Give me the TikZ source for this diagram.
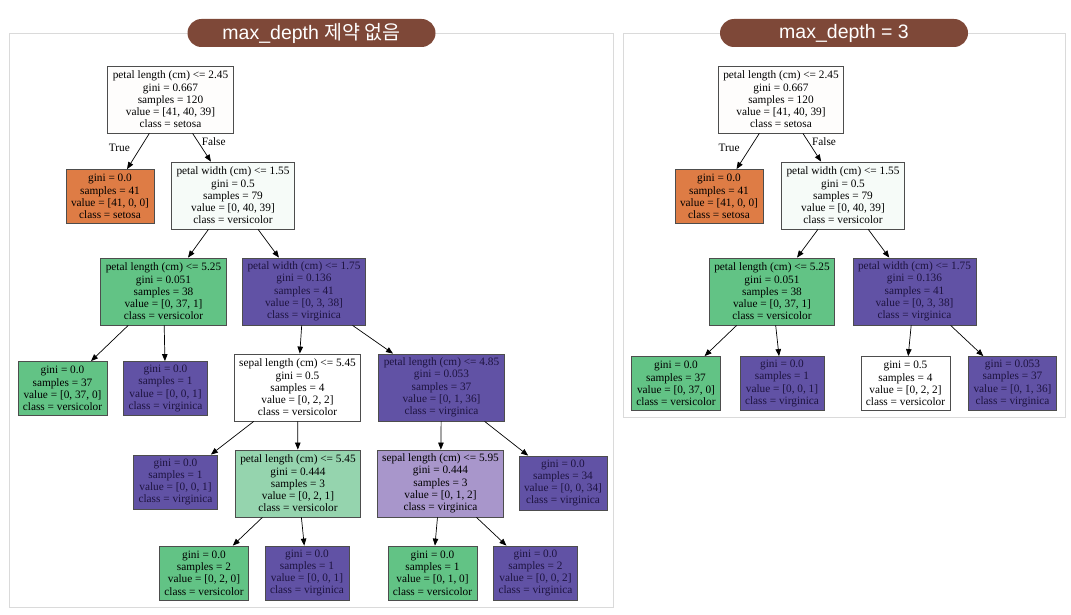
\documentclass[tikz,border=0pt]{standalone}
\usepackage{fontspec}
\setmainfont{Liberation Serif}
\newfontfamily\titlelat{Liberation Sans}
\newfontfamily\titlekr{Noto Sans CJK KR}
\usetikzlibrary{arrows.meta,positioning}
\definecolor{pillbrown}{HTML}{7E4838}
\definecolor{framegray}{HTML}{DADADA}
\definecolor{boxline}{HTML}{4D4D4D}
\definecolor{setosafill}{HTML}{DE7C45}
\definecolor{versifill}{HTML}{62C385}
\definecolor{virgifill}{HTML}{6152A5}
\definecolor{virgitext}{HTML}{1E1440}
\definecolor{versilight}{HTML}{95D4AE}
\definecolor{virgilight}{HTML}{A896CB}
\definecolor{rootfill}{HTML}{FEFDFC}
\definecolor{faintfill}{HTML}{F6FBF8}
\tikzset{
  treebox/.style={draw=boxline,line width=0.8pt,align=center,
                  font=\fontsize{11.3}{12.3}\selectfont,inner xsep=5pt,inner ysep=1pt},
  splitbox/.style={treebox,minimum height=67pt},
  leafbox/.style={treebox,minimum height=54pt},
  setosa/.style={fill=setosafill},
  versi/.style={fill=versifill},
  virgi/.style={fill=virgifill,text=virgitext},
  treearr/.style={-{Triangle[length=7pt,width=5.5pt]},line width=0.7pt},
  edgelbl/.style={font=\fontsize{11.3}{12.3}\selectfont},
  pill/.style={fill=pillbrown,rounded corners=14pt,minimum width=248pt,
               minimum height=28pt,text=white,font=\fontsize{19.5}{21}\selectfont},
  panel/.style={draw=framegray,line width=0.8pt}
}
\begin{document}
\begin{tikzpicture}[x=1pt,y=-1pt]
  \useasboundingbox (0,0) rectangle (1071,615);
  \draw[panel] (9,33) rectangle (613,607);
  \draw[panel] (623,33) rectangle (1065,417);
  \node[pill] (ltitle) at (311.5,33) {\titlelat max\_depth {\titlekr 제약 없음}};
  \node[pill] (rtitle) at (844,33) {\titlelat max\_depth = 3};

  \node[splitbox,fill=rootfill] (lroot) at (170.5,99.5) {petal length (cm) <= 2.45\\gini = 0.667\\samples = 120\\value = [41, 40, 39]\\class = setosa};
  \node[leafbox,setosa] (lset) at (110,196.5) {gini = 0.0\\samples = 41\\value = [41, 0, 0]\\class = setosa};
  \node[splitbox,fill=faintfill] (lpw1) at (233,195.5) {petal width (cm) <= 1.55\\gini = 0.5\\samples = 79\\value = [0, 40, 39]\\class = versicolor};
  \node[splitbox,versi] (lpl1) at (163.5,291.5) {petal length (cm) <= 5.25\\gini = 0.051\\samples = 38\\value = [0, 37, 1]\\class = versicolor};
  \node[splitbox,virgi] (lpw2) at (304,291.5) {petal width (cm) <= 1.75\\gini = 0.136\\samples = 41\\value = [0, 3, 38]\\class = virginica};
  \node[leafbox,versi] (lv37) at (62.5,388.5) {gini = 0.0\\samples = 37\\value = [0, 37, 0]\\class = versicolor};
  \node[leafbox,virgi] (lg1) at (165.5,388.5) {gini = 0.0\\samples = 1\\value = [0, 0, 1]\\class = virginica};
  \node[splitbox,fill=white] (lsl1) at (297.5,387.5) {sepal length (cm) <= 5.45\\gini = 0.5\\samples = 4\\value = [0, 2, 2]\\class = versicolor};
  \node[splitbox,virgi] (lpl2) at (441.5,387.5) {petal length (cm) <= 4.85\\gini = 0.053\\samples = 37\\value = [0, 1, 36]\\class = virginica};
  \node[leafbox,virgi] (lg2) at (175.5,482) {gini = 0.0\\samples = 1\\value = [0, 0, 1]\\class = virginica};
  \node[splitbox,fill=versilight] (lpl3) at (298,483.5) {petal length (cm) <= 5.45\\gini = 0.444\\samples = 3\\value = [0, 2, 1]\\class = versicolor};
  \node[splitbox,fill=virgilight] (lsl2) at (440.5,483.5) {sepal length (cm) <= 5.95\\gini = 0.444\\samples = 3\\value = [0, 1, 2]\\class = virginica};
  \node[leafbox,virgi] (lg34) at (563,483) {gini = 0.0\\samples = 34\\value = [0, 0, 34]\\class = virginica};
  \node[leafbox,versi] (lv2) at (204,573) {gini = 0.0\\samples = 2\\value = [0, 2, 0]\\class = versicolor};
  \node[leafbox,virgi] (lg3) at (307,573) {gini = 0.0\\samples = 1\\value = [0, 0, 1]\\class = virginica};
  \node[leafbox,versi] (lv1) at (432.5,573) {gini = 0.0\\samples = 1\\value = [0, 1, 0]\\class = versicolor};
  \node[leafbox,virgi] (lg4) at (535.5,573) {gini = 0.0\\samples = 2\\value = [0, 0, 2]\\class = virginica};

  \draw[treearr] (lroot) -- (lset) node[edgelbl,pos=0.4,left=7pt] {True};
  \draw[treearr] (lroot) -- (lpw1) node[edgelbl,pos=0.3,right=0pt] {False};
  \draw[treearr] (lpw1) -- (lpl1);
  \draw[treearr] (lpw1) -- (lpw2);
  \draw[treearr] (lpl1) -- (lv37);
  \draw[treearr] (lpl1) -- (lg1);
  \draw[treearr] (lpw2) -- (lsl1);
  \draw[treearr] (lpw2) -- (lpl2);
  \draw[treearr] (lsl1) -- (lg2);
  \draw[treearr] (lsl1) -- (lpl3);
  \draw[treearr] (lpl2) -- (lsl2);
  \draw[treearr] (lpl2) -- (lg34);
  \draw[treearr] (lpl3) -- (lv2);
  \draw[treearr] (lpl3) -- (lg3);
  \draw[treearr] (lsl2) -- (lv1);
  \draw[treearr] (lsl2) -- (lg4);

  \node[splitbox,fill=rootfill] (rroot) at (781,99.5) {petal length (cm) <= 2.45\\gini = 0.667\\samples = 120\\value = [41, 40, 39]\\class = setosa};
  \node[leafbox,setosa] (rset) at (719,196.5) {gini = 0.0\\samples = 41\\value = [41, 0, 0]\\class = setosa};
  \node[splitbox,fill=faintfill] (rpw1) at (843,195.5) {petal width (cm) <= 1.55\\gini = 0.5\\samples = 79\\value = [0, 40, 39]\\class = versicolor};
  \node[splitbox,versi] (rpl1) at (772,291.5) {petal length (cm) <= 5.25\\gini = 0.051\\samples = 38\\value = [0, 37, 1]\\class = versicolor};
  \node[splitbox,virgi] (rpw2) at (914.5,291.5) {petal width (cm) <= 1.75\\gini = 0.136\\samples = 41\\value = [0, 3, 38]\\class = virginica};
  \node[leafbox,versi] (rv37) at (676,383.5) {gini = 0.0\\samples = 37\\value = [0, 37, 0]\\class = versicolor};
  \node[leafbox,virgi] (rg1) at (782,383.5) {gini = 0.0\\samples = 1\\value = [0, 0, 1]\\class = virginica};
  \node[leafbox,fill=white] (rw4) at (905.5,383.5) {gini = 0.5\\samples = 4\\value = [0, 2, 2]\\class = versicolor};
  \node[leafbox,virgi] (rg37) at (1012.5,383.5) {gini = 0.053\\samples = 37\\value = [0, 1, 36]\\class = virginica};

  \draw[treearr] (rroot) -- (rset) node[edgelbl,pos=0.4,left=7pt] {True};
  \draw[treearr] (rroot) -- (rpw1) node[edgelbl,pos=0.3,right=0pt] {False};
  \draw[treearr] (rpw1) -- (rpl1);
  \draw[treearr] (rpw1) -- (rpw2);
  \draw[treearr] (rpl1) -- (rv37);
  \draw[treearr] (rpl1) -- (rg1);
  \draw[treearr] (rpw2) -- (rw4);
  \draw[treearr] (rpw2) -- (rg37);
\end{tikzpicture}
\end{document}
